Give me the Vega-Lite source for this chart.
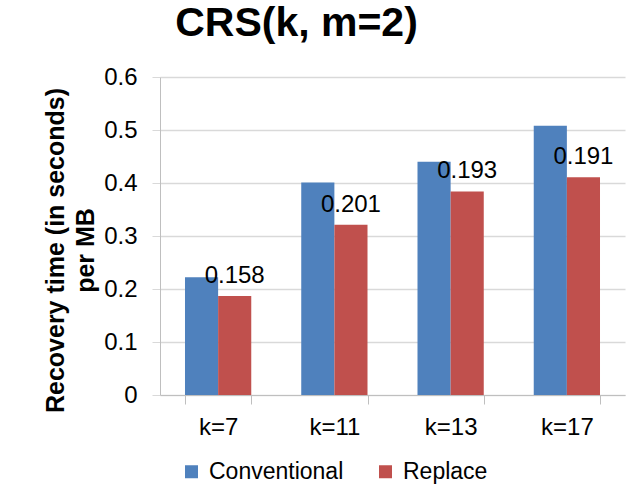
{
  "$schema": "https://vega.github.io/schema/vega-lite/v6.json",
  "autosize": "none",
  "width": 465,
  "height": 318,
  "padding": {"left": 160, "top": 77, "right": 2, "bottom": 95},
  "background": "white",
  "config": {
    "font": "Liberation Sans",
    "view": {"stroke": null}
  },
  "title": {
    "text": "CRS(k, m=2)",
    "fontSize": 41,
    "fontWeight": "bold",
    "color": "black",
    "anchor": "middle",
    "frame": "group",
    "dx": -96,
    "offset": 20
  },
  "data": {
    "values": [
      {"k": "k=7", "series": "Conventional", "value": 0.222, "label": ""},
      {"k": "k=7", "series": "Replace", "value": 0.187, "label": "0.158"},
      {"k": "k=11", "series": "Conventional", "value": 0.401, "label": ""},
      {"k": "k=11", "series": "Replace", "value": 0.321, "label": "0.201"},
      {"k": "k=13", "series": "Conventional", "value": 0.440, "label": ""},
      {"k": "k=13", "series": "Replace", "value": 0.384, "label": "0.193"},
      {"k": "k=17", "series": "Conventional", "value": 0.508, "label": ""},
      {"k": "k=17", "series": "Replace", "value": 0.411, "label": "0.191"}
    ]
  },
  "encoding": {
    "x": {
      "field": "k",
      "type": "nominal",
      "sort": ["k=7", "k=11", "k=13", "k=17"],
      "scale": {"paddingInner": 0.43, "paddingOuter": 0.215},
      "axis": {
        "title": null,
        "labelAngle": 0,
        "labelFontSize": 24,
        "labelColor": "black",
        "labelPadding": 11,
        "tickBand": "extent",
        "tickSize": 9,
        "tickColor": "#bfbfbf",
        "domainColor": "#bfbfbf",
        "grid": false
      }
    },
    "xOffset": {
      "field": "series",
      "type": "nominal",
      "sort": ["Conventional", "Replace"],
      "scale": {"paddingInner": 0, "paddingOuter": 0}
    },
    "y": {
      "field": "value",
      "type": "quantitative",
      "scale": {"domain": [0, 0.6], "nice": false},
      "axis": {
        "title": ["Recovery time (in seconds)", "per MB"],
        "titleFontSize": 25,
        "titleFontWeight": "bold",
        "titleColor": "black",
        "titleAngle": -90,
        "titleAlign": "center",
        "titleBaseline": "alphabetic",
        "titleLineHeight": 30,
        "titleX": -97,
        "titleY": 173,
        "values": [0, 0.1, 0.2, 0.3, 0.4, 0.5, 0.6],
        "format": ".1~f",
        "labelFontSize": 24,
        "labelColor": "black",
        "labelPadding": 15,
        "tickSize": 8,
        "tickColor": "#d9d9d9",
        "domainColor": "#bfbfbf",
        "gridColor": "#d9d9d9",
        "gridWidth": 1.5
      }
    }
  },
  "layer": [
    {
      "mark": {"type": "bar"},
      "encoding": {
        "color": {
          "field": "series",
          "type": "nominal",
          "scale": {"domain": ["Conventional", "Replace"], "range": ["#4F81BD", "#C0504D"]},
          "legend": {
            "title": null,
            "orient": "none",
            "direction": "horizontal",
            "legendX": 20,
            "legendY": 383,
            "padding": 0,
            "symbolType": "square",
            "symbolSize": 169,
            "symbolStrokeWidth": 0,
            "labelFontSize": 23,
            "labelColor": "black",
            "labelOffset": 6,
            "columnPadding": 30
          }
        }
      }
    },
    {
      "transform": [{"filter": "datum.series === 'Replace'"}],
      "mark": {"type": "text", "baseline": "alphabetic", "dy": -13, "fontSize": 24, "color": "black"},
      "encoding": {
        "text": {"field": "label"}
      }
    }
  ]
}
